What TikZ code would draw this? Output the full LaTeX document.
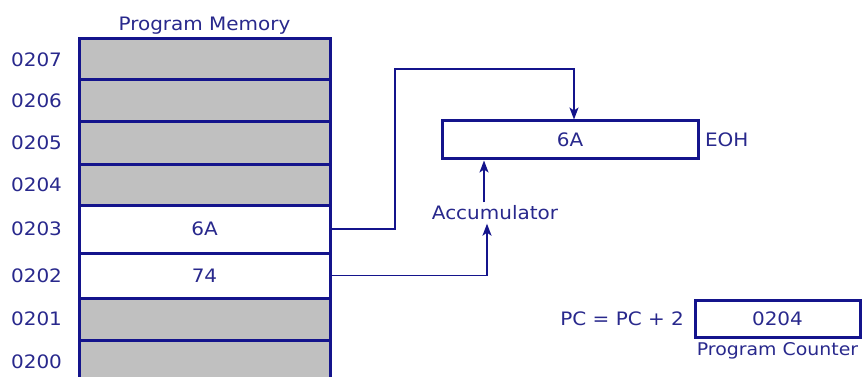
\documentclass[tikz,border=0pt]{standalone}
\usepackage{fontspec}
\setmainfont[FakeStretch=1.08]{DejaVu Sans}
\usetikzlibrary{positioning,arrows.meta}
\definecolor{memblue}{RGB}{20,20,140}
\definecolor{memtext}{RGB}{40,40,140}
\definecolor{memgray}{RGB}{192,192,192}
\begin{document}
\begin{tikzpicture}[x=1pt,y=-1pt,
    lab/.style={text=memtext, font=\fontsize{18.5}{22}\selectfont},
    cell/.style={draw=memblue, line width=3pt, minimum width=251pt, inner sep=0pt, lab},
    used/.style={cell, fill=white},
    free/.style={cell, fill=memgray},
    wire/.style={draw=memblue, line width=1.8pt, -{Stealth[length=12pt,width=9pt,inset=3pt]}}]
\useasboundingbox (0,0) rectangle (862,377);

\node[free, minimum height=41pt] (r207) at (204.5, 59.5) {};
\node[free, minimum height=42pt] (r206) at (204.5, 101) {};
\node[free, minimum height=42pt] (r205) at (204.5, 143) {};
\node[free, minimum height=41pt] (r204) at (204.5, 184.5) {};
\node[used, minimum height=48pt] (r203) at (204.5, 229) {6A};
\node[used, minimum height=45pt] (r202) at (204.5, 275.5) {74};
\node[free, minimum height=42pt] (r201) at (204.5, 319) {};
\node[free, minimum height=44pt] (r200) at (204.5, 362) {};

\node[lab, above=0pt of r207] (title) {Program Memory};
\node[lab, left=12pt of r207] (a207) {0207};
\node[lab, left=12pt of r206] (a206) {0206};
\node[lab, left=12pt of r205] (a205) {0205};
\node[lab, left=12pt of r204] (a204) {0204};
\node[lab, left=12pt of r203] (a203) {0203};
\node[lab, left=12pt of r202] (a202) {0202};
\node[lab, left=12pt of r201] (a201) {0201};
\node[lab, left=12pt of r200] (a200) {0200};

\node[draw=memblue, line width=3pt, minimum width=256pt, minimum height=38pt, lab] (acc) at (570, 140) {6A};
\node[lab, right=2pt of acc] (eoh) {EOH};
\node[lab] (acclab) at (495, 213) {Accumulator};

\coordinate (bend) at (395, 69);
\coordinate (drop) at (574, 69);
\draw[wire] (r203.east) -| (bend) -- (drop) -- (drop |- acc.north);
\draw[wire] ([xshift=-11pt]acclab.north) -- ([xshift=-11pt]acclab.north |- acc.south);
\draw[wire] (r202.east) -| ([xshift=-8pt]acclab.south);

\node[draw=memblue, line width=3pt, minimum width=165pt, minimum height=37pt, lab] (pc) at (777.5, 318.5) {0204};
\node[lab, left=6pt of pc] (inc) {PC = PC + 2};
\node[lab, below=0pt of pc, font=\fontsize{17.5}{21}\selectfont] (pclab) {Program Counter};
\end{tikzpicture}
\end{document}
